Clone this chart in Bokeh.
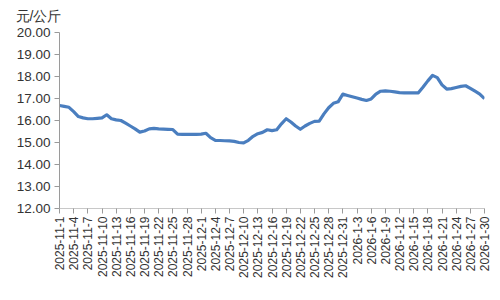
import math
import datetime as dt
from bokeh.plotting import figure
from bokeh.models import FixedTicker, Range1d, Title
from bokeh.embed import file_html
from bokeh.resources import INLINE

start = dt.date(2025, 11, 1)
dates = [(start + dt.timedelta(days=i)) for i in range(91)]
date_labels = [f"{d.year}-{d.month}-{d.day}" for d in dates]

prices = [
    16.68, 16.64, 16.60, 16.40, 16.18, 16.12, 16.08, 16.08, 16.10, 16.12,
    16.26, 16.08, 16.03, 16.00, 15.88, 15.75, 15.62, 15.47, 15.52, 15.62,
    15.64, 15.62, 15.61, 15.60, 15.59, 15.38, 15.37, 15.37, 15.37, 15.37,
    15.38, 15.42, 15.22, 15.10, 15.09, 15.08, 15.07, 15.05, 15.00, 14.98,
    15.10, 15.28, 15.40, 15.46, 15.58, 15.54, 15.58, 15.85, 16.08, 15.93,
    15.75, 15.60, 15.75, 15.87, 15.96, 15.97, 16.30, 16.58, 16.78, 16.85,
    17.20, 17.14, 17.08, 17.02, 16.96, 16.91, 16.98, 17.20, 17.33, 17.35,
    17.33, 17.30, 17.27, 17.26, 17.26, 17.26, 17.26, 17.52, 17.80, 18.05,
    17.95, 17.62, 17.43, 17.45, 17.50, 17.55, 17.58, 17.46, 17.33, 17.20,
    16.99,
]

y_ticks = [12, 13, 14, 15, 16, 17, 18, 19, 20]
x_idx = list(range(len(prices)))
x_ticks = list(range(0, len(prices), 3))

FONT = "Liberation Sans"

p = figure(width=500, height=300, output_backend="svg", toolbar_location=None,
           x_range=Range1d(0, len(prices) - 1), y_range=Range1d(12, 20),
           min_border_left=59, min_border_right=16, min_border_bottom=92,
           min_border_top=32)
p.outline_line_color = None
p.grid.visible = False

t = Title(text="元/公斤", align="left", offset=-44, text_font=FONT,
          text_font_size="14px", text_font_style="normal", text_color="#333333",
          standoff=14, vertical_align="top")
p.add_layout(t, "above")

p.line(x_idx, prices, line_color="#4A7EBF", line_width=3.2, line_join="round")

ya = p.yaxis[0]
ya.ticker = FixedTicker(ticks=y_ticks)
ya.major_label_overrides = {v: f"{v:.2f}" for v in y_ticks}
ya.axis_line_color = "#9a9a9a"
ya.major_tick_line_color = "#9a9a9a"
ya.major_tick_in = 0
ya.major_tick_out = 5
ya.minor_tick_line_color = None
ya.major_label_text_font = FONT
ya.major_label_text_font_size = "13.5px"
ya.major_label_text_color = "#333333"
ya.major_label_standoff = 4

xa = p.xaxis[0]
xa.ticker = FixedTicker(ticks=x_ticks)
xa.major_label_overrides = {i: date_labels[i] for i in x_ticks}
xa.major_label_orientation = math.pi / 2
xa.axis_line_color = "#c8c8c8"
xa.major_tick_line_color = "#9a9a9a"
xa.major_tick_in = 0
xa.major_tick_out = 5
xa.minor_tick_line_color = None
xa.major_label_text_font = FONT
xa.major_label_text_font_size = "12px"
xa.major_label_text_color = "#333333"
xa.major_label_standoff = 3

open("out.html", "w").write(file_html(p, INLINE))
